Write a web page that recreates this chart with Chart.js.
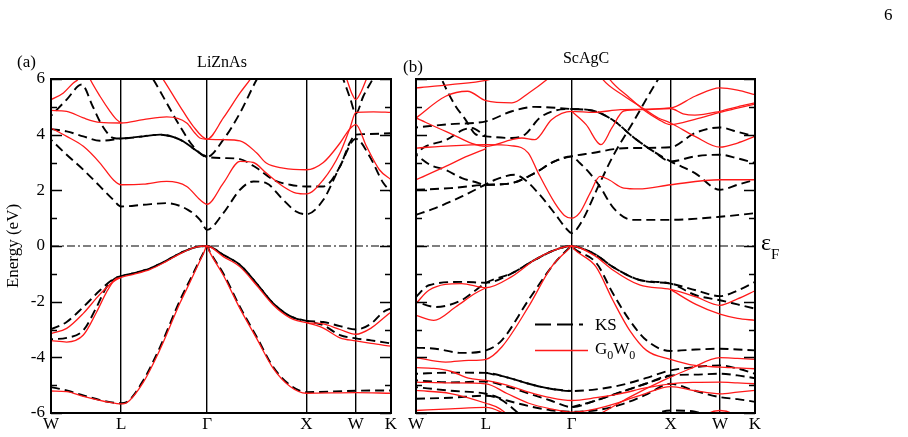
<!DOCTYPE html>
<html>
<head>
<meta charset="utf-8">
<script src="https://cdn.jsdelivr.net/npm/chart.js@4.4.0/dist/chart.umd.min.js"></script>
<style>
  html, body { margin: 0; padding: 0; background: #fff; }
  #wrap { position: relative; width: 908px; height: 437px; overflow: hidden;
          font-family: "Liberation Serif", "DejaVu Serif", serif; color: #000; }
  canvas { position: absolute; top: 0; }
  #ca { left: 0; }
  #cb { left: 400px; }
  .lbl { position: absolute; white-space: nowrap; line-height: 1; }
  .sub { position: relative; top: 5px; font-size: 12px; }
</style>
</head>
<body>
<div id="wrap">
  <canvas id="ca" width="400" height="437"></canvas>
  <canvas id="cb" width="508" height="437"></canvas>
  <div class="lbl" style="left:17px;top:53px;font-size:17px">(a)</div>
  <div class="lbl" style="left:222px;top:54px;font-size:16px;transform:translateX(-50%)">LiZnAs</div>
  <div class="lbl" style="left:403px;top:58px;font-size:17px">(b)</div>
  <div class="lbl" style="left:586px;top:50px;font-size:16px;transform:translateX(-50%)">ScAgC</div>
  <div class="lbl" style="left:884px;top:6px;font-size:17px">6</div>
  <div class="lbl" style="left:761px;top:230px;font-size:24px">ε<span style="position:relative;top:9px;font-size:15px">F</span></div>
  <div class="lbl" style="left:595px;top:316px;font-size:17px">KS</div>
  <div class="lbl" style="left:595px;top:340px;font-size:17px">G<span class="sub">0</span>W<span class="sub">0</span></div>
</div>

<script>
(function () {
  'use strict';

  // ---------------------------------------------------------------------------
  // Data: k-path (2pi/a units) and band energies (eV), [k, E] pairs
  // ---------------------------------------------------------------------------

  var kTicks  = [0, 0.707, 1.573, 2.573, 3.073, 3.427];
  var kLabels = ['W', 'L', '\u0393', 'X', 'W', 'K'];
  var energyTicks = [-6, -4, -2, 0, 2, 4, 6];

  // LiZnAs, Kohn-Sham (dashed black)
  var liznasKS = [
    [[0,-2.99],[0.158,-2.73],[0.326,-2.19],[0.494,-1.59],[0.628,-1.19],[0.707,-1.08],[0.83,-0.98],[1.0,-0.8],[1.15,-0.55],[1.3,-0.26],[1.45,-0.05],[1.573,0],[1.737,-0.32],[1.905,-0.68],[2.074,-1.35],[2.24,-2.06],[2.41,-2.52],[2.573,-2.69],[2.745,-2.73],[2.913,-2.88],[3.073,-3.0],[3.226,-2.79],[3.35,-2.37],[3.427,-2.24]],
    [[0,-3.35],[0.158,-3.3],[0.326,-3.03],[0.46,-2.19],[0.561,-1.47],[0.645,-1.17],[0.707,-1.08],[0.83,-0.98],[1.0,-0.8],[1.15,-0.55],[1.3,-0.26],[1.45,-0.05],[1.573,0],[1.737,-0.32],[1.905,-0.68],[2.074,-1.35],[2.24,-2.06],[2.41,-2.52],[2.573,-2.69],[2.745,-2.85],[2.913,-3.2],[3.073,-3.32],[3.226,-3.39],[3.427,-3.5]],
    [[0,-5.07],[0.158,-5.19],[0.326,-5.37],[0.595,-5.61],[0.707,-5.65],[0.763,-5.61],[0.93,-4.83],[1.099,-3.63],[1.3,-1.95],[1.401,-1.22],[1.54,-0.22],[1.573,0],[1.6,-0.2],[1.737,-0.99],[1.905,-2.19],[2.074,-3.27],[2.24,-4.35],[2.41,-5.0],[2.573,-5.25],[3.073,-5.2],[3.427,-5.19]],
    [[0,3.82],[0.158,3.28],[0.326,2.74],[0.494,2.14],[0.628,1.66],[0.707,1.42],[0.93,1.48],[1.166,1.54],[1.38,1.3],[1.502,0.94],[1.573,0.58],[1.737,1.18],[1.905,2.02],[2.04,2.32],[2.17,2.26],[2.34,1.66],[2.47,1.24],[2.573,1.14],[2.745,1.66],[2.913,2.86],[3.073,3.85],[3.215,3.2],[3.35,2.26],[3.427,1.96]],
    [[0,4.2],[0.158,4.12],[0.326,3.94],[0.494,3.78],[0.707,3.86],[0.93,3.94],[1.1,4.0],[1.3,3.82],[1.5,3.34],[1.573,3.2],[1.737,3.16],[1.905,3.12],[2.074,2.8],[2.24,2.38],[2.41,2.2],[2.573,2.14],[2.745,2.14],[2.913,2.86],[3.01,3.7],[3.073,4.0],[3.15,4.02],[3.427,4.05]],
    [[0,4.68],[0.158,5.26],[0.31,5.8],[0.42,5.02],[0.52,4.3],[0.63,3.88],[0.707,3.86],[0.93,3.94],[1.1,4.0],[1.3,3.82],[1.5,3.34],[1.573,3.2]],
    [[0.95,6.4],[1.031,5.98],[1.166,5.14],[1.3,4.3],[1.434,3.58],[1.573,3.2],[1.737,3.82],[1.905,4.78],[2.074,5.98],[2.15,6.4]],
    [[2.9,6.4],[2.947,5.98],[3.014,5.32],[3.073,4.76],[3.148,5.38],[3.249,6.04],[3.3,6.4]]
  ];

  // LiZnAs, G0W0 (solid red)
  var liznasGW = [
    [[0,-3.15],[0.158,-2.96],[0.326,-2.42],[0.494,-1.73],[0.628,-1.28],[0.707,-1.13],[0.83,-1.02],[1.0,-0.84],[1.15,-0.58],[1.3,-0.28],[1.45,-0.05],[1.573,0],[1.737,-0.38],[1.905,-0.75],[2.074,-1.42],[2.24,-2.12],[2.41,-2.58],[2.573,-2.75],[2.745,-2.8],[2.913,-3.0],[3.073,-3.17],[3.226,-2.95],[3.35,-2.6],[3.427,-2.37]],
    [[0,-3.4],[0.158,-3.45],[0.326,-3.2],[0.46,-2.37],[0.561,-1.65],[0.645,-1.2],[0.707,-1.13]],
    [[2.573,-2.75],[2.745,-2.95],[2.913,-3.3],[3.073,-3.41],[3.226,-3.5],[3.427,-3.6]],
    [[0,-5.21],[0.158,-5.23],[0.326,-5.4],[0.595,-5.62],[0.707,-5.67],[0.763,-5.63],[0.93,-4.9],[1.099,-3.72],[1.3,-2.05],[1.401,-1.3],[1.54,-0.24],[1.573,0],[1.6,-0.22],[1.737,-1.05],[1.905,-2.25],[2.074,-3.33],[2.24,-4.4],[2.41,-5.05],[2.573,-5.29],[3.073,-5.27],[3.427,-5.29]],
    [[0,4.24],[0.158,3.94],[0.326,3.58],[0.494,2.98],[0.628,2.38],[0.707,2.2],[0.93,2.22],[1.166,2.32],[1.368,2.14],[1.502,1.66],[1.573,1.5],[1.737,2.26],[1.905,3.04],[2.04,3.0],[2.17,2.62],[2.34,2.14],[2.47,1.9],[2.573,1.87],[2.745,2.38],[2.913,3.34],[3.014,4.24],[3.073,4.8],[3.25,4.82],[3.427,4.8]],
    [[0,4.87],[0.158,4.84],[0.326,4.6],[0.494,4.44],[0.707,4.42],[0.93,4.54],[1.166,4.64],[1.368,4.42],[1.45,4.06],[1.5,3.88],[1.573,3.84],[1.737,3.82],[1.905,3.78],[2.074,3.34],[2.17,2.98],[2.34,2.8],[2.573,2.74],[2.745,3.0],[2.913,3.7],[3.01,4.2],[3.073,4.36],[3.18,3.58],[3.31,2.74],[3.427,2.38]],
    [[1.05,6.4],[1.132,5.98],[1.3,5.02],[1.434,4.3],[1.573,3.84],[1.737,4.6],[1.905,5.5],[2.006,5.98],[2.08,6.4]],
    [[0,5.26],[0.125,5.5],[0.225,5.86],[0.275,6.0],[0.33,6.4]],
    [[0.33,6.5],[0.393,6.0],[0.494,5.38],[0.595,4.84],[0.662,4.54],[0.707,4.42]],
    [[2.93,6.4],[2.98,6.0],[3.03,5.5],[3.073,5.26],[3.12,5.5],[3.18,6.0],[3.23,6.4]]
  ];

  // ScAgC, Kohn-Sham (dashed black)
  var scagcKS = [
    [[0,-1.83],[0.13,-1.41],[0.46,-1.29],[0.707,-1.32],[0.968,-0.98],[1.2,-0.5],[1.4,-0.15],[1.573,0],[1.656,-0.06],[1.82,-0.32],[1.99,-0.75],[2.26,-1.22],[2.573,-1.35],[2.83,-1.59],[3.073,-1.8],[3.25,-1.6],[3.427,-1.29]],
    [[0,-2.0],[0.2,-2.19],[0.46,-1.95],[0.6,-1.6],[0.707,-1.32],[0.968,-0.98],[1.2,-0.5],[1.4,-0.15],[1.573,0],[1.656,-0.06],[1.82,-0.32],[1.99,-0.75],[2.26,-1.22],[2.573,-1.35],[2.83,-1.77],[3.073,-1.95],[3.25,-2.1],[3.427,-2.25]],
    [[0,-3.65],[0.195,-3.69],[0.46,-3.84],[0.707,-3.75],[0.867,-3.39],[1.136,-1.95],[1.4,-0.62],[1.54,-0.1],[1.573,0],[1.6,-0.1],[1.825,-0.62],[1.99,-1.7],[2.16,-2.67],[2.33,-3.39],[2.573,-3.77],[2.83,-3.72],[3.073,-3.69],[3.25,-3.72],[3.427,-3.75]],
    [[0,-4.59],[0.35,-4.55],[0.707,-4.56],[0.92,-4.72],[1.14,-4.95],[1.36,-5.13],[1.573,-5.21],[1.82,-5.15],[2.07,-5.0],[2.32,-4.75],[2.573,-4.47],[2.82,-4.35],[3.073,-4.29],[3.25,-4.4],[3.427,-4.59]],
    [[0.707,-4.56],[0.92,-4.72],[1.14,-4.95],[1.36,-5.13],[1.573,-5.21]],
    [[0,-4.83],[0.35,-4.9],[0.707,-4.87],[0.92,-5.05],[1.14,-5.3],[1.36,-5.55],[1.573,-5.79],[1.82,-5.55],[2.07,-5.25],[2.32,-4.95],[2.573,-4.65],[2.82,-4.62],[3.073,-4.59],[3.25,-4.65],[3.427,-4.75]],
    [[1.573,-5.79],[1.82,-5.55],[2.07,-5.25],[2.32,-4.95],[2.573,-4.65]],
    [[0,-5.07],[0.35,-5.2],[0.707,-5.31],[0.92,-5.55],[1.14,-5.75],[1.36,-5.9],[1.573,-5.95],[1.82,-5.9],[2.07,-5.7],[2.32,-5.35],[2.573,-4.95],[2.82,-5.2],[3.073,-5.43],[3.25,-5.5],[3.427,-5.6]],
    [[0,-5.49],[0.35,-5.45],[0.707,-5.38],[0.85,-5.5],[1.0,-5.9],[1.15,-6.4]],
    [[2.3,-6.3],[2.45,-6.0],[2.573,-5.91],[2.82,-5.95],[3.0,-6.3]],
    [[0.22,6.4],[0.26,6.0],[0.396,5.05],[0.497,4.56],[0.6,4.02],[0.707,3.94],[0.97,3.88],[1.1,4.0],[1.25,4.6],[1.4,4.86],[1.573,4.92],[1.8,4.85],[2.0,4.5],[2.2,3.9],[2.4,3.4],[2.573,3.04],[2.82,2.62],[3.073,2.02],[3.25,2.2],[3.427,2.38]],
    [[0,4.26],[0.35,4.38],[0.707,4.48],[0.97,4.84],[1.2,5.0],[1.573,4.92],[1.8,4.85],[2.0,4.5],[2.2,3.9],[2.4,3.4],[2.573,3.04],[2.82,3.22],[3.073,3.28],[3.25,3.15],[3.427,2.98]],
    [[0,2.02],[0.35,2.08],[0.707,2.2],[0.968,2.26],[1.2,2.62],[1.4,3.04],[1.573,3.22],[1.656,2.98],[1.76,2.6],[1.858,2.14],[2.0,1.35],[2.19,0.94],[2.573,0.94],[3.073,1.05],[3.427,1.18]],
    [[0,3.28],[0.15,2.9],[0.295,2.74],[0.464,2.44],[0.6,2.3],[0.707,2.2],[0.968,2.26],[1.2,2.62],[1.4,3.04],[1.573,3.22],[1.8,3.35],[2.0,3.48],[2.15,3.52],[2.573,3.55],[2.82,4.06],[3.073,4.26],[3.25,4.1],[3.427,3.94]],
    [[0,1.12],[0.195,1.36],[0.464,1.78],[0.665,2.14],[0.8,2.38],[1.0,2.56],[1.1,2.38],[1.236,1.9],[1.4,1.18],[1.52,0.62],[1.573,0.46],[1.656,0.76],[1.858,2.26],[1.99,3.22],[2.19,4.42],[2.45,6.0],[2.55,6.5]],
    [[0,3.28],[0.07,3.52],[0.31,3.82],[0.48,4.18],[0.56,4.24],[0.707,3.94]]
  ];

  // ScAgC, G0W0 (solid red)
  var scagcGW = [
    [[0,-2.07],[0.13,-1.59],[0.46,-1.35],[0.707,-1.5],[0.968,-1.1],[1.2,-0.5],[1.4,-0.15],[1.573,0],[1.82,-0.38],[1.99,-0.86],[2.26,-1.4],[2.573,-1.56],[2.83,-1.83],[3.073,-2.13],[3.25,-1.9],[3.427,-1.61]],
    [[0,-2.49],[0.18,-2.67],[0.4,-2.19],[0.6,-1.7],[0.707,-1.5]],
    [[2.573,-1.56],[2.83,-2.1],[3.073,-2.45],[3.25,-2.6],[3.427,-2.67]],
    [[0,-4.01],[0.3,-4.17],[0.53,-4.11],[0.707,-4.07],[0.867,-3.63],[1.136,-2.19],[1.37,-0.75],[1.54,-0.12],[1.573,0],[1.6,-0.12],[1.82,-0.75],[1.99,-1.95],[2.16,-3.03],[2.33,-3.75],[2.573,-4.07],[2.82,-4.29],[3.073,-4.35],[3.25,-4.38],[3.427,-4.41]],
    [[0,-4.37],[0.18,-4.4],[0.35,-4.5],[0.53,-4.75],[0.707,-4.83],[0.92,-5.0],[1.14,-5.25],[1.36,-5.45],[1.573,-5.55],[1.82,-5.45],[2.07,-5.3],[2.32,-5.1],[2.573,-4.95],[2.82,-4.9],[3.073,-4.89],[3.25,-4.92],[3.427,-4.95]],
    [[0,-4.89],[0.35,-4.92],[0.707,-4.95],[0.92,-5.3],[1.14,-5.65],[1.36,-5.85],[1.573,-5.97],[1.82,-5.85],[2.07,-5.6],[2.32,-5.3],[2.573,-5.05],[2.82,-5.2],[3.073,-5.31],[3.25,-5.25],[3.427,-5.19]],
    [[0,-5.19],[0.35,-5.3],[0.707,-5.65],[0.85,-5.85],[1.0,-6.3]],
    [[0,-5.91],[0.35,-5.85],[0.707,-5.8],[0.85,-5.95],[1.0,-6.3]],
    [[1.65,-6.4],[1.86,-6.03],[2.16,-5.43],[2.5,-4.83],[2.77,-4.41],[3.073,-4.01],[3.25,-4.04],[3.427,-4.07]],
    [[2.85,-6.3],[2.95,-6.02],[3.073,-5.91],[3.2,-6.02],[3.3,-6.3]],
    [[0,5.68],[0.35,5.8],[0.707,5.95],[0.85,6.1],[1.0,6.4]],
    [[0,4.6],[0.3,5.38],[0.52,5.56],[0.707,5.22],[0.97,5.14],[1.14,5.5],[1.33,6.0],[1.45,6.4]],
    [[0,4.6],[0.3,4.12],[0.707,3.58],[0.97,3.82],[1.07,3.88],[1.2,3.82],[1.37,4.54],[1.573,4.84],[1.8,4.8],[2.07,4.9],[2.573,4.96],[2.82,5.38],[3.073,5.68],[3.25,5.6],[3.427,5.44]],
    [[1.573,4.84],[1.72,4.36],[1.87,3.64],[1.98,4.24],[2.1,4.85],[2.3,4.9],[2.573,4.94],[2.7,4.75],[2.82,4.7],[3.073,4.84],[3.25,5.0],[3.427,5.14]],
    [[1.8,6.5],[1.89,5.98],[2.1,5.4],[2.29,4.96],[2.45,4.6],[2.573,4.42],[2.82,3.94],[3.073,3.55],[3.25,3.7],[3.427,3.94]],
    [[1.87,6.5],[1.96,5.98],[2.15,5.35],[2.32,4.84],[2.45,4.55],[2.573,4.36],[2.82,4.55],[3.073,4.8],[3.25,4.95],[3.427,5.1]],
    [[0,3.52],[0.35,3.6],[0.707,3.64],[0.97,3.6],[1.136,3.34],[1.236,2.62],[1.404,1.54],[1.5,1.1],[1.573,1.0],[1.656,1.2],[1.76,1.9],[1.86,2.5],[1.95,2.38],[2.1,2.08],[2.25,2.05],[2.573,2.2],[3.073,2.38],[3.427,2.38]],
    [[0,2.38],[0.3,2.86],[0.5,3.2],[0.707,3.5]]
  ];

  // ---------------------------------------------------------------------------
  // Style
  // ---------------------------------------------------------------------------

  var FONT = '"Liberation Serif", "DejaVu Serif", serif';
  var KS_COLOUR = '#000';
  var GW_COLOUR = '#ff1a1a';
  var K_MAX = kTicks[kTicks.length - 1];

  Chart.defaults.font.family = FONT;
  Chart.defaults.color = '#000';

  function toPoints(band) {
    return band.map(function (p) { return { x: p[0], y: p[1] }; });
  }

  function buildDatasets(ksBands, gwBands) {
    var sets = [];
    // Chart.js paints dataset 0 last, so red goes first to sit on top
    gwBands.forEach(function (b) {
      sets.push({
        data: toPoints(b), borderColor: GW_COLOUR, borderWidth: 1.3,
        pointRadius: 0, fill: false, cubicInterpolationMode: 'monotone'
      });
    });
    ksBands.forEach(function (b, i) {
      sets.push({
        data: toPoints(b), borderColor: KS_COLOUR, borderWidth: 1.9,
        borderDash: [9, 5], borderDashOffset: (i % 2) ? 7 : 0,
        pointRadius: 0, fill: false, cubicInterpolationMode: 'monotone'
      });
    });
    // Fermi level
    sets.push({
      data: [{ x: 0, y: 0 }, { x: K_MAX, y: 0 }], borderColor: '#000', borderWidth: 1.2,
      borderDash: [8, 3, 2, 3], pointRadius: 0, fill: false
    });
    return sets;
  }

  // frame and inward y ticks on both sides
  var framePlugin = {
    id: 'frame',
    afterDatasetsDraw: function (chart) {
      var a = chart.chartArea, ys = chart.scales.y, ctx = chart.ctx;
      ctx.save();
      ctx.strokeStyle = '#000';
      ctx.lineWidth = 1.5;
      ctx.beginPath();
      for (var v = -6; v <= 6; v++) {
        var py = Math.round(ys.getPixelForValue(v)) + 0.5;
        var len = (v % 2 === 0) ? 11 : 6;
        ctx.moveTo(a.left, py); ctx.lineTo(a.left + len, py);
        ctx.moveTo(a.right, py); ctx.lineTo(a.right - len, py);
      }
      ctx.stroke();
      ctx.lineWidth = 2;
      ctx.strokeRect(a.left, a.top, a.right - a.left, a.bottom - a.top);
      ctx.restore();
    }
  };

  // legend samples for panel (b), text is in the page
  var legendPlugin = {
    id: 'bandLegend',
    afterDraw: function (chart) {
      var ctx = chart.ctx;
      ctx.save();
      ctx.lineWidth = 1.9;
      ctx.strokeStyle = KS_COLOUR;
      ctx.setLineDash([16, 6]);
      ctx.beginPath(); ctx.moveTo(135, 324.5); ctx.lineTo(183, 324.5); ctx.stroke();
      ctx.setLineDash([]);
      ctx.lineWidth = 1.3;
      ctx.strokeStyle = GW_COLOUR;
      ctx.beginPath(); ctx.moveTo(135, 350.5); ctx.lineTo(188, 350.5); ctx.stroke();
      ctx.restore();
    }
  };

  function makePanel(canvas, ksBands, gwBands, cfg) {
    return new Chart(canvas, {
      type: 'line',
      data: { datasets: buildDatasets(ksBands, gwBands) },
      plugins: cfg.plugins,
      options: {
        responsive: false,
        animation: false,
        events: [],
        layout: { padding: cfg.padding },
        plugins: { legend: { display: false }, tooltip: { enabled: false } },
        scales: {
          x: {
            type: 'linear', min: 0, max: K_MAX,
            afterBuildTicks: function (s) { s.ticks = kTicks.map(function (v) { return { value: v }; }); },
            afterFit: function (s) { s.height = 24; },
            ticks: {
              autoSkip: false, maxRotation: 0, padding: 1,
              font: { size: 17, family: FONT }, color: '#000',
              callback: function (v, i) { return kLabels[i]; }
            },
            grid: { color: '#000', lineWidth: 1.4, drawTicks: false },
            border: { display: false }
          },
          y: {
            type: 'linear', min: -6, max: 6,
            afterBuildTicks: function (s) { s.ticks = energyTicks.map(function (v) { return { value: v }; }); },
            afterFit: function (s) { s.width = cfg.yWidth; },
            ticks: {
              display: cfg.yLabels, padding: 6,
              font: { size: 17, family: FONT }, color: '#000'
            },
            title: {
              display: cfg.yLabels, text: 'Energy (eV)', color: '#000',
              font: { size: 17, family: FONT }, padding: { top: 3, bottom: 0 }
            },
            grid: { display: false, drawTicks: false },
            border: { display: false }
          }
        }
      }
    });
  }

  makePanel(document.getElementById('ca'), liznasKS, liznasGW, {
    padding: { left: 0, top: 79, right: 9, bottom: 0 },
    yWidth: 51, yLabels: true, plugins: [framePlugin]
  });

  makePanel(document.getElementById('cb'), scagcKS, scagcGW, {
    padding: { left: 16, top: 79, right: 153, bottom: 0 },
    yWidth: 0, yLabels: false, plugins: [framePlugin, legendPlugin]
  });
})();
</script>
</body>
</html>
